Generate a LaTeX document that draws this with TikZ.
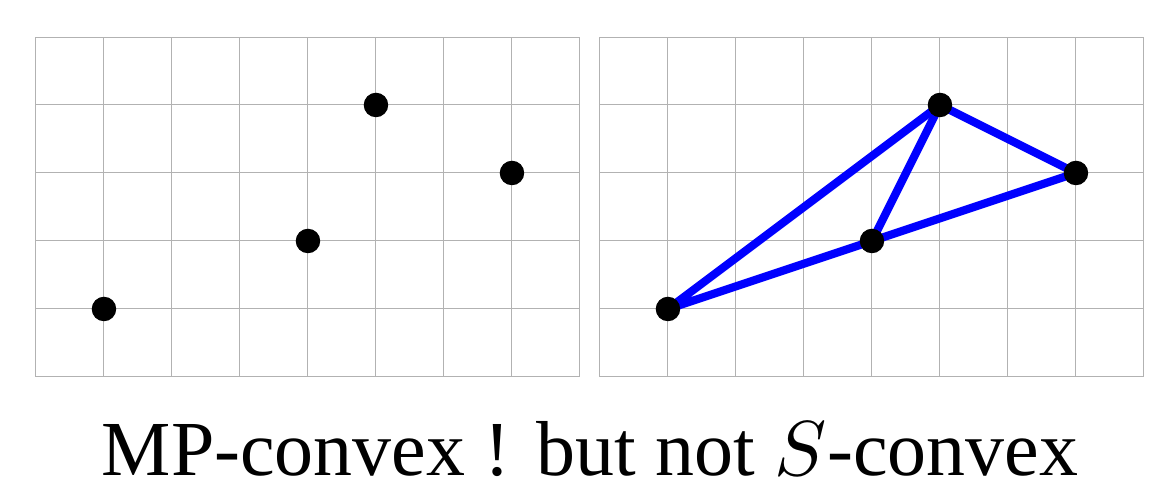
\documentclass[tikz,border=0pt]{standalone}
\usepackage{unicode-math}
\setmainfont{Liberation Serif}
\setmathfont{Latin Modern Math}
\begin{document}
\begin{tikzpicture}[x=1cm,y=1cm,
  gridline/.style={draw=black!30, line width=0.42pt},
  dot/.style={circle, fill=black, inner sep=0pt, minimum size=0.36cm},
  edge/.style={draw=blue, line width=3.4pt}]
\useasboundingbox (-0.529,-1.632) rectangle (16.368,5.544);
% left grid
\draw[gridline] (0,0) grid (8,5);
% right grid
\begin{scope}[xshift=8.294cm]
\draw[gridline] (0,0) grid (8,5);
\end{scope}
% left points
\node[dot] (a1) at (1,1) {};
\node[dot] (b1) at (4,2) {};
\node[dot] (c1) at (5,4) {};
\node[dot] (d1) at (7,3) {};
% right points and edges
\begin{scope}[xshift=8.294cm]
\coordinate (a) at (1,1);
\coordinate (b) at (4,2);
\coordinate (c) at (5,4);
\coordinate (d) at (7,3);
\draw[edge] (a) -- (c) -- (d) -- (b) -- (a);
\draw[edge] (b) -- (c);
\node[dot] (a2) at (a) {};
\node[dot] (b2) at (b) {};
\node[dot] (c2) at (c) {};
\node[dot] (d2) at (d) {};
\end{scope}
\node[anchor=base, inner sep=0pt, font=\fontsize{32.6}{38}\selectfont] (cap) at (8.147,-1.45) {MP-convex ! but not $S$-convex};
\end{tikzpicture}
\end{document}
